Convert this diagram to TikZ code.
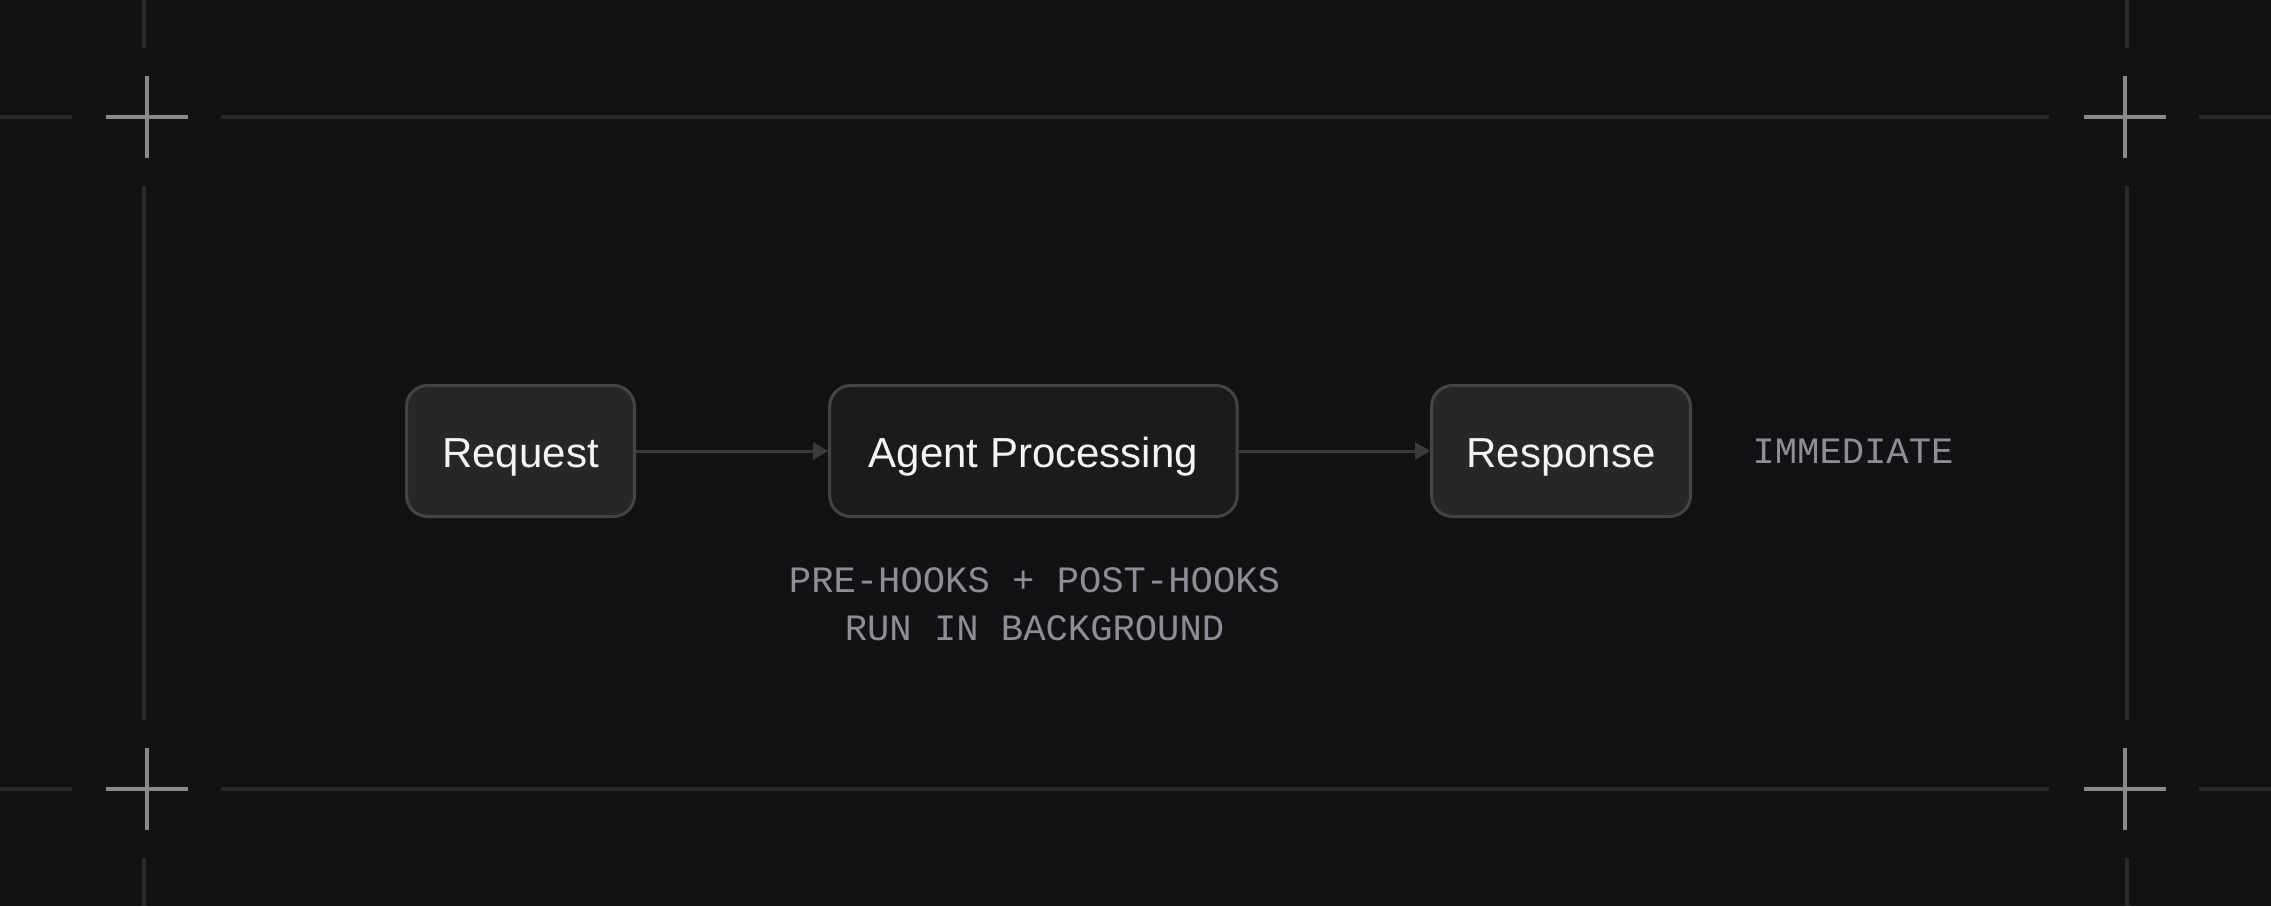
\documentclass[tikz,border=0pt]{standalone}
\usepackage{fontspec}
\setmainfont{Liberation Sans}
\newfontfamily\monofnt{Liberation Mono}
\usetikzlibrary{arrows.meta}
\definecolor{bgc}{HTML}{121214}
\definecolor{faintc}{HTML}{2A2A2D}
\definecolor{crossc}{HTML}{8A8A8C}
\definecolor{borderc}{HTML}{444447}
\definecolor{fillA}{HTML}{27272A}
\definecolor{fillB}{HTML}{1B1B1E}
\definecolor{arrowc}{HTML}{3A3A3D}
\definecolor{monoc}{HTML}{8E8E96}
\definecolor{textc}{HTML}{F4F4F5}
\tikzset{
  faint/.style={draw=faintc, line width=4pt},
  crossline/.style={draw=crossc, line width=4pt},
  procbox/.style={draw=borderc, line width=3pt, rounded corners=21pt, minimum height=131pt,
    inner sep=0pt, text=textc, font=\fontsize{42}{50}\selectfont, text height=33.4pt, text depth=0pt},
  flow/.style={draw=arrowc, line width=3pt, -{Triangle[length=15pt,width=17pt]}},
  monolabel/.style={text=monoc, font=\monofnt\fontsize{37.2}{47.7}\selectfont, inner sep=0pt, anchor=base}
}
\begin{document}
\begin{tikzpicture}[x=1pt,y=-1pt]
  \fill[bgc] (0,0) rectangle (2271,906);
  \useasboundingbox (0,0) rectangle (2271,906);
  % frame lines
  \draw[faint] (0,117) -- (72,117);
  \draw[faint] (221,117) -- (2049,117);
  \draw[faint] (2199,117) -- (2271,117);
  \draw[faint] (0,789) -- (72,789);
  \draw[faint] (221,789) -- (2049,789);
  \draw[faint] (2199,789) -- (2271,789);
  \draw[faint] (144,0) -- (144,48);
  \draw[faint] (144,186) -- (144,720);
  \draw[faint] (144,858) -- (144,906);
  \draw[faint] (2127,0) -- (2127,48);
  \draw[faint] (2127,186) -- (2127,720);
  \draw[faint] (2127,858) -- (2127,906);
  % crosses
  \foreach \cx/\cy in {146.5/117, 2124.5/117, 146.5/789, 2124.5/789}{
    \draw[crossline] (\cx-41,\cy) -- (\cx+41,\cy);
    \draw[crossline] (\cx,\cy-41) -- (\cx,\cy+41);
  }
  % boxes
  \node[procbox, fill=fillA, minimum width=228pt] (req) at (520.5,451) {Request};
  \node[procbox, fill=fillB, minimum width=407.5pt] (agent) at (1033.4,451) {Agent Processing};
  \node[procbox, fill=fillA, minimum width=259pt] (resp) at (1561,451) {Response};
  % arrows
  \draw[flow] (req.east) -- (agent.west);
  \draw[flow] (agent.east) -- (resp.west);
  % labels
  \node[monolabel] (imm) at (1853,463.3) {IMMEDIATE};
  \node[monolabel] (hooksA) at (1034.5,592.3) {PRE-HOOKS + POST-HOOKS};
  \node[monolabel] (hooksB) at (1034.5,640) {RUN IN BACKGROUND};
\end{tikzpicture}
\end{document}
